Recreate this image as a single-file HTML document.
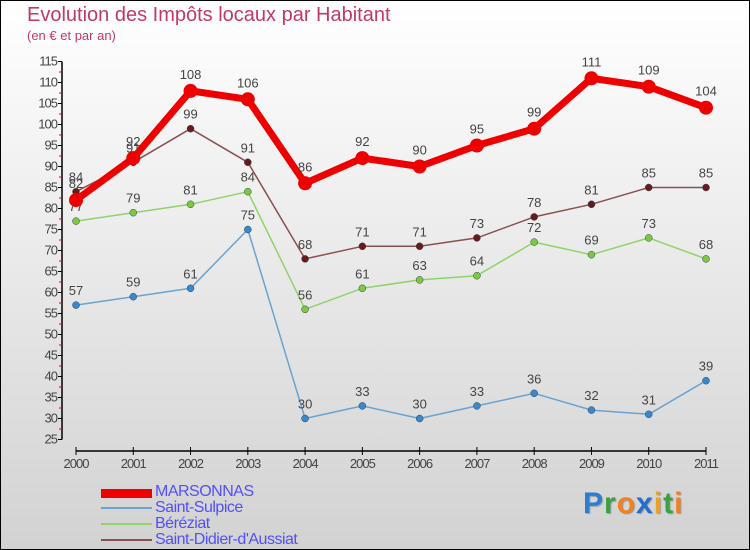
<!DOCTYPE html>
<html><head><meta charset="utf-8"><style>
body{margin:0}
#c{position:relative;width:748px;height:548px;border:1px solid #000;background:linear-gradient(#ffffff,#d2d2d2);font-family:"Liberation Sans",sans-serif;overflow:hidden}
.t{position:absolute;color:#c0396b}
.lg{position:absolute;left:154px;font-size:16px;color:#5050ff;letter-spacing:-0.5px}
.sw{position:absolute;left:100px;width:51px}
</style></head><body>
<div id="c">
<div class="t" style="left:26px;top:3px;font-size:20px">Evolution des Impôts locaux par Habitant</div>
<div class="t" style="left:26px;top:27px;font-size:13px">(en € et par an)</div>
<svg id="s" width="748" height="548" style="position:absolute;left:0;top:0"></svg>
<div class="sw" style="top:488px;height:9px;background:#e00"></div>
<div class="lg" style="top:482px">MARSONNAS</div>
<div class="sw" style="top:506px;height:2px;background:#6aa3d0"></div>
<div class="lg" style="top:498px">Saint-Sulpice</div>
<div class="sw" style="top:522px;height:2px;background:#8fd36a"></div>
<div class="lg" style="top:514px">Béréziat</div>
<div class="sw" style="top:538px;height:2px;background:#8a5050"></div>
<div class="lg" style="top:530px">Saint-Didier-d'Aussiat</div>
<div style="position:absolute;left:582px;top:486px;font-size:30px;font-weight:bold;letter-spacing:1px;text-shadow:1px 1px 1px #999"><span style="color:#2a7fd0">P</span><span style="color:#3aa040">r</span><span style="color:#f08020">o</span><span style="color:#1f6fd0">x</span><span style="color:#f0a020">i</span><span style="color:#3aa040">t</span><span style="color:#f08020">i</span></div>
</div>
<script>
const years=[2000,2001,2002,2003,2004,2005,2006,2007,2008,2009,2010,2011];
const yTicks=[25,30,35,40,45,50,55,60,65,70,75,80,85,90,95,100,105,110,115];
const marsonnas=[82,92,108,106,86,92,90,95,99,111,109,104];
const saintSulpice=[57,59,61,75,30,33,30,33,36,32,31,39];
const bereziat=[77,79,81,84,56,61,63,64,72,69,73,68];
const saintDidier=[84,91,99,91,68,71,71,73,78,81,85,85];
const NS="http://www.w3.org/2000/svg",svg=document.getElementById('s');
const X=i=>75+i*(630/11), Y=v=>60.5+(115-v)*4.2;
function mk(t,a){const e=document.createElementNS(NS,t);for(const k in a)e.setAttribute(k,a[k]);svg.appendChild(e);return e;}
let ax=mk('line',{x1:61,y1:Y(115),x2:61,y2:Y(25),stroke:'#000','stroke-width':1.5});


let xa=mk('line',{x1:75,y1:450,x2:705,y2:450,stroke:'#000','stroke-width':1.5});


yTicks.forEach(v=>{
 mk('line',{x1:57,x2:61,y1:Y(v),y2:Y(v),stroke:'#000'});
 if(v<115) mk('line',{x1:58,x2:61,y1:Y(v+2.5),y2:Y(v+2.5),stroke:'#e00'});
 const t=mk('text',{x:56,y:Y(v)+4,'text-anchor':'end','font-size':13,fill:'#444','letter-spacing':'-1'});t.textContent=v;
 
 
});
years.forEach((yr,i)=>{
 mk('line',{x1:X(i),x2:X(i),y1:446,y2:454,stroke:'#000'});
 const t=mk('text',{x:X(i),y:467,'text-anchor':'middle','font-size':13,fill:'#444','letter-spacing':'-1'});t.textContent=yr;
 
 
});
function series(d,col,dot,w,r,name){
 const p=mk('polyline',{points:d.map((v,i)=>X(i)+','+Y(v)).join(' '),fill:'none',stroke:col,'stroke-width':w,'stroke-linejoin':'round'});
 
 
 d.forEach((v,i)=>{
  const c=mk('circle',{cx:X(i),cy:Y(v),r:r,fill:dot,stroke:w>3?'none':'#345','stroke-width':0.5});
  
  
  const t=mk('text',{x:X(i),y:Y(v)-(w>3?12:10),'text-anchor':'middle','font-size':13,fill:'#444'});t.textContent=v;
  
  
 });
}
series(saintSulpice,'#6aa3d0','#3a88cc',1.5,3.5,'saint-sulpice');
series(bereziat,'#8fd36a','#7cc840',1.5,3.5,'bereziat');
series(saintDidier,'#8a5050','#6a1a1a',1.5,3.5,'saint-didier');
series(marsonnas,'#ee0000','#ee0000',7,7,'marsonnas');
</script>
</body></html>
